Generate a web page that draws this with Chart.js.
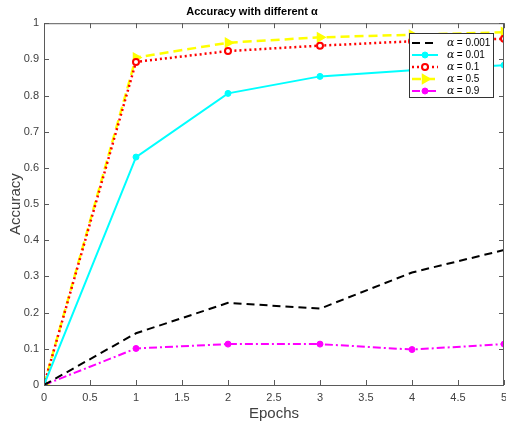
<!DOCTYPE html>
<html>
<head>
<meta charset="utf-8">
<title>Accuracy with different alpha</title>
<script src="https://cdn.jsdelivr.net/npm/chart.js@4/dist/chart.umd.min.js"></script>
<style>
  body { margin: 0; background: #fff; }
  #grafico { display: block; }
</style>
</head>
<body>
<canvas id="grafico" width="506" height="423"></canvas>
<script>
// valores
var epocas = [0, 1, 2, 3, 4, 5];
var alfas = ['0.001', '0.01', '0.1', '0.5', '0.9'];
var acc0001 = [0, 0.143, 0.227, 0.211, 0.311, 0.373];
var acc001 = [0, 0.630, 0.806, 0.853, 0.870, 0.884];
var acc01 = [0, 0.893, 0.923, 0.938, 0.950, 0.957];
var acc05 = [0, 0.905, 0.946, 0.961, 0.968, 0.975];
var acc09 = [0, 0.101, 0.113, 0.113, 0.098, 0.113];

var corEixo = '#5a5a5a';
var corTexto = '#404040';

function pontos(valores) {
    return epocas.map(function(e, i) { return { x: e, y: valores[i] }; });
}

// caixa com ticks para dentro, estilo matlab
var caixaPlugin = {
    id: 'caixa',
    afterDraw: function(chart) {
        var ctx = chart.ctx;
        var a = chart.chartArea;
        var xs = chart.scales.x;
        var ys = chart.scales.y;
        ctx.save();
        ctx.strokeStyle = corEixo;
        ctx.lineWidth = 1;
        ctx.strokeRect(a.left + 0.5, a.top + 0.5, a.right - a.left - 1, a.bottom - a.top);
        ctx.beginPath();
        xs.ticks.forEach(function(t) {
            var px = Math.round(xs.getPixelForValue(t.value)) + 0.5;
            ctx.moveTo(px, a.bottom); ctx.lineTo(px, a.bottom - 5);
            ctx.moveTo(px, a.top); ctx.lineTo(px, a.top + 5);
        });
        ys.ticks.forEach(function(t) {
            var py = Math.round(ys.getPixelForValue(t.value)) + 0.5;
            ctx.moveTo(a.left, py); ctx.lineTo(a.left + 5, py);
            ctx.moveTo(a.right, py); ctx.lineTo(a.right - 5, py);
        });
        ctx.stroke();
        ctx.restore();
    }
};

// legenda dentro da área do gráfico
var legendaPlugin = {
    id: 'legendaInterna',
    afterDraw: function(chart) {
        var ctx = chart.ctx;
        var x0 = 409, y0 = 33, w = 84, h = 64;
        ctx.save();
        ctx.fillStyle = '#fff';
        ctx.fillRect(x0, y0, w, h);
        ctx.strokeStyle = '#333';
        ctx.lineWidth = 1;
        ctx.strokeRect(x0 + 0.5, y0 + 0.5, w, h);
        chart.data.datasets.forEach(function(ds, i) {
            var y = y0 + 10 + i * 12;
            ctx.save();
            ctx.strokeStyle = ds.borderColor;
            ctx.lineWidth = ds.borderWidth;
            ctx.setLineDash(ds.borderDash || []);
            ctx.beginPath();
            ctx.moveTo(x0 + 3, y);
            ctx.lineTo(x0 + 29, y);
            ctx.stroke();
            ctx.restore();
            if (ds.pointRadius > 0) {
                ctx.save();
                ctx.strokeStyle = ds.borderColor;
                ctx.fillStyle = ds.pointBackgroundColor;
                ctx.lineWidth = ds.pointBorderWidth;
                Chart.helpers.drawPoint(ctx, {
                    pointStyle: ds.pointStyle,
                    radius: ds.pointRadius,
                    rotation: ds.pointRotation || 0,
                    borderWidth: ds.pointBorderWidth
                }, x0 + 16, y);
                ctx.restore();
            }
            ctx.fillStyle = '#000';
            ctx.textBaseline = 'middle';
            ctx.font = 'italic 11px "DejaVu Serif", serif';
            ctx.fillText('\u03b1', x0 + 38, y);
            ctx.font = '10px "Liberation Sans", Arial, sans-serif';
            ctx.fillText(' = ' + alfas[i], x0 + 45, y);
        });
        ctx.restore();
    }
};

var grafico = new Chart(document.getElementById('grafico').getContext('2d'), {
    type: 'line',
    data: {
        datasets: [{
            label: '\u03b1 = ' + alfas[0],
            data: pontos(acc0001),
            borderColor: '#000000',
            borderWidth: 2,
            borderDash: [8, 5],
            pointRadius: 0
        }, {
            label: '\u03b1 = ' + alfas[1],
            data: pontos(acc001),
            borderColor: '#00ffff',
            borderWidth: 2,
            pointStyle: 'circle',
            pointRadius: 3,
            pointBorderWidth: 1,
            pointBackgroundColor: '#00ffff'
        }, {
            label: '\u03b1 = ' + alfas[2],
            data: pontos(acc01),
            borderColor: '#ff0000',
            borderWidth: 2.5,
            borderDash: [2, 3],
            pointStyle: 'circle',
            pointRadius: 3,
            pointBorderWidth: 2,
            pointBackgroundColor: '#ffffff'
        }, {
            label: '\u03b1 = ' + alfas[3],
            data: pontos(acc05),
            borderColor: '#ffff00',
            borderWidth: 2.5,
            borderDash: [9, 5],
            pointStyle: 'triangle',
            pointRotation: 90,
            pointRadius: 5,
            pointBorderWidth: 1.5,
            pointBackgroundColor: '#ffff00'
        }, {
            label: '\u03b1 = ' + alfas[4],
            data: pontos(acc09),
            borderColor: '#ff00ff',
            borderWidth: 2,
            borderDash: [8, 3, 2, 3],
            pointStyle: 'circle',
            pointRadius: 3,
            pointBorderWidth: 1,
            pointBackgroundColor: '#ff00ff'
        }]
    },
    options: {
        responsive: false,
        animation: false,
        layout: { autoPadding: false, padding: { left: 0, right: 2, top: 0, bottom: 0 } },
        elements: { line: { tension: 0, fill: false } },
        plugins: {
            legend: { display: false },
            tooltip: { enabled: false },
            title: {
                display: true,
                text: 'Accuracy with different \u03b1',
                color: '#000',
                font: { family: '"Liberation Sans", Arial, sans-serif', size: 11, weight: 'bold' },
                padding: { top: 5, bottom: 5 }
            }
        },
        scales: {
            x: {
                type: 'linear',
                min: 0,
                max: 5,
                grid: { display: false, drawTicks: false },
                border: { display: false },
                ticks: {
                    stepSize: 0.5,
                    padding: 6,
                    color: corTexto,
                    font: { family: '"Liberation Sans", Arial, sans-serif', size: 11 },
                    maxRotation: 0,
                    callback: function(v) { return +v.toFixed(1); }
                },
                title: {
                    display: true,
                    text: 'Epochs',
                    color: corTexto,
                    font: { family: '"Liberation Sans", Arial, sans-serif', size: 15 },
                    padding: { top: 0, bottom: 0 }
                },
                afterFit: function(escala) {
                    escala.height = 38;
                    escala.paddingRight = 0;
                    escala.paddingLeft = 0;
                }
            },
            y: {
                min: 0,
                max: 1,
                grid: { display: false, drawTicks: false },
                border: { display: false },
                ticks: {
                    stepSize: 0.1,
                    padding: 5,
                    color: corTexto,
                    font: { family: '"Liberation Sans", Arial, sans-serif', size: 11 },
                    callback: function(v) { return +v.toFixed(1); }
                },
                title: {
                    display: true,
                    text: 'Accuracy',
                    color: corTexto,
                    font: { family: '"Liberation Sans", Arial, sans-serif', size: 15 },
                    padding: { top: 7, bottom: 0 }
                },
                afterFit: function(escala) { escala.width = 44; }
            }
        }
    },
    plugins: [caixaPlugin, legendaPlugin]
});
</script>
</body>
</html>
